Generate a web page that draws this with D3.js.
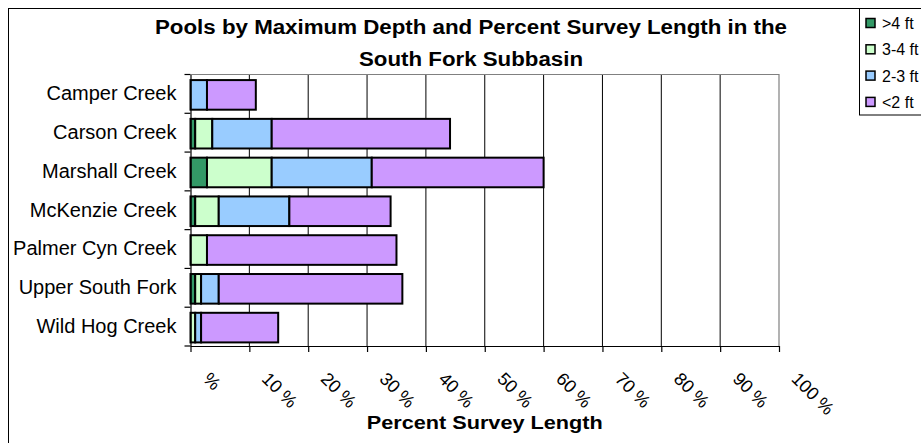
<!DOCTYPE html>
<html>
<head>
<meta charset="utf-8">
<script src="https://cdn.jsdelivr.net/npm/d3@7/dist/d3.min.js"></script>
<style>
  html, body { margin: 0; padding: 0; background: #fff; }
  svg { display: block; font-family: "Liberation Sans", Arial, sans-serif; }
</style>
</head>
<body>
<svg id="chart" width="921" height="443"></svg>
<script>
// ---- data ----
const categories = ["Camper Creek", "Carson Creek", "Marshall Creek", "McKenzie Creek", "Palmer Cyn Creek", "Upper South Fork", "Wild Hog Creek"];
const seriesNames = [">4 ft", "3-4 ft", "2-3 ft", "<2 ft"];
const over4ft = [0, 0.8, 2.8, 0.8, 0, 0.8, 0];
const ft3to4 = [0, 2.9, 11.0, 4.0, 2.8, 1.0, 0.8];
const ft2to3 = [2.8, 10.1, 17.0, 12.0, 0, 3.0, 1.0];
const under2ft = [8.3, 30.3, 29.2, 17.2, 32.2, 31.2, 13.1];
const tickValues = [0, 10, 20, 30, 40, 50, 60, 70, 80, 90, 100];
const tickLabels = ["%", "10 %", "20 %", "30 %", "40 %", "50 %", "60 %", "70 %", "80 %", "90 %", "100 %"];
const titleLines = ["Pools by Maximum Depth and Percent Survey Length in the", "South Fork Subbasin"];
const xAxisTitle = "Percent Survey Length";

// ---- styles ----
const colors = ["#339966", "#CCFFCC", "#99CCFF", "#CC99FF"];

const svg = d3.select("#chart");
const plot = { left: 190.5, right: 779, top: 74.5, bottom: 346 };

// chart frame
svg.append("rect").attr("x", 8.5).attr("y", 8.5).attr("width", 940).attr("height", 460)
  .attr("fill", "#fff").attr("stroke", "#000").attr("stroke-width", 1);

const x = d3.scaleLinear().domain([0, 100]).range([plot.left, plot.right]);
const y = d3.scaleBand().domain(categories).range([plot.top, plot.bottom]).padding(0);
const barH = y.bandwidth() / 1.31;

// gridlines
svg.append("g").selectAll("line").data(tickValues.slice(1, -1)).join("line")
  .attr("x1", d => x(d)).attr("x2", d => x(d))
  .attr("y1", plot.top).attr("y2", plot.bottom)
  .attr("stroke", "#000").attr("stroke-width", 1);

// plot border (top/right)
svg.append("path")
  .attr("d", `M${plot.left},${plot.top}H${plot.right}V${plot.bottom}`)
  .attr("fill", "none").attr("stroke", "#808080").attr("stroke-width", 1.2);

// stacked bars
const seriesData = [over4ft, ft3to4, ft2to3, under2ft];
const rows = categories.map((c, i) => {
  const o = { cat: c };
  seriesNames.forEach((s, j) => o[s] = seriesData[j][i]);
  return o;
});
const stack = d3.stack().keys(seriesNames)(rows);
svg.append("g").selectAll("g").data(stack).join("g")
  .attr("fill", (d, i) => colors[i])
  .selectAll("rect").data(d => d.filter(p => p[1] - p[0] > 0)).join("rect")
  .attr("x", d => x(d[0]))
  .attr("width", d => x(d[1]) - x(d[0]))
  .attr("y", d => y(d.data.cat) + (y.bandwidth() - barH) / 2 + 1)
  .attr("height", barH)
  .attr("stroke", "#000").attr("stroke-width", 2);

// y axis
const yAxis = svg.append("g").attr("transform", `translate(${plot.left},0)`)
  .call(d3.axisLeft(y).tickSize(0).tickPadding(14));
yAxis.select(".domain").attr("stroke", "#000").attr("stroke-width", 1.2);
yAxis.selectAll("text").attr("font-size", 20).attr("fill", "#000")
  .attr("font-family", "Liberation Sans, Arial, sans-serif");
// category boundary ticks
const bounds = categories.map(c => y(c)).concat([y.range()[1]]);
yAxis.append("g").selectAll("line").data(bounds).join("line")
  .attr("x1", -6).attr("x2", 0).attr("y1", d => d).attr("y2", d => d)
  .attr("stroke", "#000").attr("stroke-width", 1.2);

// x axis
const xAxis = svg.append("g").attr("transform", `translate(0,${plot.bottom})`)
  .call(d3.axisBottom(x).tickValues(tickValues).tickSize(6).tickSizeOuter(0)
    .tickFormat((d, i) => tickLabels[i]));
xAxis.select(".domain").attr("stroke", "#000").attr("stroke-width", 1.2);
xAxis.selectAll(".tick line").attr("stroke", "#000").attr("stroke-width", 1.2);
xAxis.selectAll("text")
  .attr("font-size", 18).attr("fill", "#000")
  .attr("font-family", "Liberation Sans, Arial, sans-serif")
  .attr("text-anchor", "start")
  .attr("x", 0).attr("y", 0).attr("dy", 0)
  .attr("transform", "translate(11,34) rotate(45)");

// axis title
svg.append("text").attr("x", (plot.left + plot.right) / 2).attr("y", 429)
  .attr("text-anchor", "middle").attr("font-weight", "bold").attr("font-size", 18)
  .attr("textLength", 236).attr("lengthAdjust", "spacingAndGlyphs")
  .text(xAxisTitle);

// chart title
const titleWidths = [632, 224];
svg.append("g").selectAll("text").data(titleLines).join("text")
  .attr("x", 471).attr("y", (d, i) => 34 + i * 32)
  .attr("text-anchor", "middle").attr("font-weight", "bold").attr("font-size", 20)
  .attr("textLength", (d, i) => titleWidths[i]).attr("lengthAdjust", "spacingAndGlyphs")
  .text(d => d);

// legend
const lg = svg.append("g");
lg.append("rect").attr("x", 859.5).attr("y", 8.5).attr("width", 80).attr("height", 106.5)
  .attr("fill", "#fff").attr("stroke", "#000").attr("stroke-width", 1);
const items = lg.selectAll("g.item").data(seriesNames).join("g").attr("class", "item")
  .attr("transform", (d, i) => `translate(0,${23 + i * 26.3})`);
items.append("rect").attr("x", 866).attr("y", -4.5).attr("width", 9).attr("height", 9)
  .attr("fill", (d, i) => colors[i]).attr("stroke", "#000").attr("stroke-width", 1.5);
items.append("text").attr("x", 882).attr("y", 6).attr("font-size", 16).text(d => d);
</script>
</body>
</html>
